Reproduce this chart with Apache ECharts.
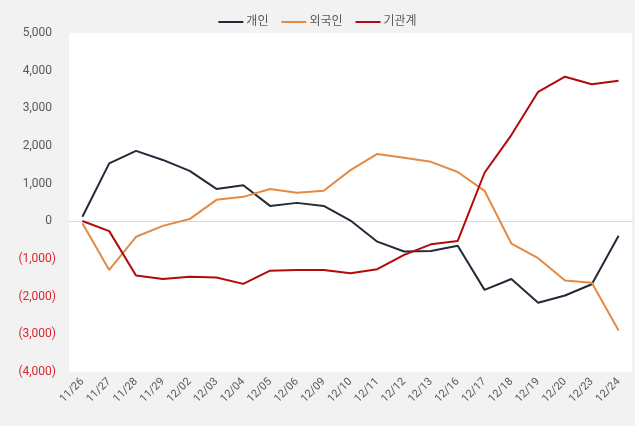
<!DOCTYPE html>
<html><head><meta charset="utf-8">
<script src="https://cdn.jsdelivr.net/npm/echarts@6/dist/echarts.min.js"></script>
<style>html,body{margin:0;padding:0;background:#f2f2f2;}#c{width:635px;height:426px;}</style>
</head><body><div id="c"></div>
<script>
const categories = ['11/26','11/27','11/28','11/29','12/02','12/03','12/04','12/05','12/06','12/09','12/10','12/11','12/12','12/13','12/16','12/17','12/18','12/19','12/20','12/23','12/24'];
const individual = [120,1540,1870,1630,1340,860,960,410,490,410,20,-540,-800,-790,-650,-1820,-1530,-2160,-1970,-1670,-380];
const foreign = [-50,-1290,-410,-120,60,570,650,860,760,810,1360,1790,1690,1580,1310,810,-590,-980,-1570,-1630,-2900];
const institution = [10,-260,-1440,-1530,-1470,-1490,-1660,-1310,-1290,-1290,-1380,-1270,-890,-610,-520,1290,2290,3440,3840,3640,3730];
const seriesNames = ['개인','외국인','기관계'];
const colors = ['#222b38','#e38a45','#b20a0a'];
const FONT = 'Roboto, "Noto Sans CJK KR", sans-serif';
const chart = echarts.init(document.getElementById('c'));
function fmt(v){
  const s = Math.abs(v).toLocaleString('en-US');
  if (v < 0) return '{n|(' + s + ')}';
  return '{p|' + s + '}';
}
chart.setOption({
  backgroundColor: '#f2f2f2',
  color: colors,
  textStyle: {fontFamily: FONT},
  legend: {
    top: 11, left: 'center', itemWidth: 25, itemHeight: 2, itemGap: 13,
    icon: 'rect',
    textStyle: {color: '#595959', fontSize: 12, fontFamily: FONT, padding: [0, 0, 0, -2]},
    data: seriesNames
  },
  grid: {left: 69, right: 3, top: 33, bottom: 54, show: true, backgroundColor: '#ffffff', borderWidth: 0},
  xAxis: {
    type: 'category', data: categories, boundaryGap: true,
    axisLine: {onZero: true, lineStyle: {color: '#d9d9d9', width: 1}},
    axisTick: {show: false},
    axisLabel: {rotate: 45, color: '#595959', fontSize: 11, margin: 8, interval: 0, fontFamily: FONT}
  },
  yAxis: {
    type: 'value', min: -4000, max: 5000, interval: 1000,
    splitLine: {show: false}, axisLine: {show: false}, axisTick: {show: false},
    axisLabel: {
      margin: 13, fontSize: 12, fontFamily: FONT, formatter: fmt,
      rich: {
        p: {color: '#595959', fontSize: 12, fontFamily: FONT, padding: [0, 4, 0, 0]},
        n: {color: '#d9262f', fontSize: 12, fontFamily: FONT}
      }
    }
  },
  series: [
    {name: seriesNames[0], type: 'line', data: individual, symbol: 'none', lineStyle: {width: 2}},
    {name: seriesNames[1], type: 'line', data: foreign, symbol: 'none', lineStyle: {width: 2}},
    {name: seriesNames[2], type: 'line', data: institution, symbol: 'none', lineStyle: {width: 2}}
  ]
});
</script></body></html>
